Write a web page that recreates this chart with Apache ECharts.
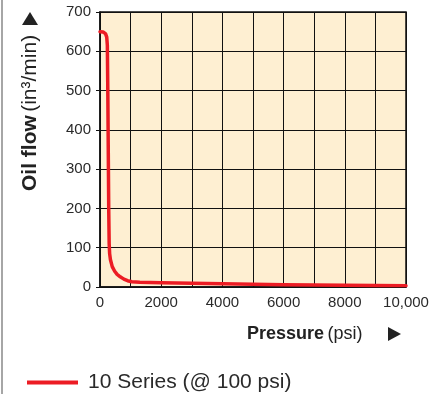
<!DOCTYPE html>
<html>
<head>
<meta charset="utf-8">
<script src="https://cdn.jsdelivr.net/npm/echarts@6/dist/echarts.min.js"></script>
<style>
  html, body { margin: 0; padding: 0; background: #fff; }
  #chart { width: 437px; height: 394px; }
</style>
</head>
<body>
<div id="chart"></div>
<script>
// pressure (psi) vs oil flow (in3/min)
const pressure = [0, 100, 180, 220, 240, 255, 270, 285, 300, 315, 340, 400, 480, 560, 660, 780, 900, 1040, 1300, 2000, 3000, 4000, 5000, 6000, 7000, 8000, 9000, 10000]
const oilFlow = [650, 649, 645, 636, 615, 500, 350, 200, 110, 85, 70, 52, 40, 32, 26, 20, 16, 13.5, 12, 11, 9.5, 8, 7, 6, 5, 4.5, 4, 3.5]
const xTickLabels = ['0', '', '2000', '', '4000', '', '6000', '', '8000', '', '10,000']
const yTickLabels = ['0', '100', '200', '300', '400', '500', '600', '700']
const seriesName = '10 Series (@ 100 psi)'

const font = '"Liberation Sans", Arial, sans-serif'
const red = '#ec1c24'
const ink = '#222'

const chart = echarts.init(document.getElementById('chart'))

chart.setOption({
  animation: false,
  textStyle: { fontFamily: font },
  grid: {
    left: 100, right: 31, top: 12, bottom: 107,
    show: true,
    backgroundColor: '#feefd2',
    borderColor: '#111',
    borderWidth: 1.5,
  },
  xAxis: {
    type: 'value',
    min: 0, max: 10000, interval: 1000,
    axisLine: { lineStyle: { color: '#111', width: 1.5 } },
    axisTick: { show: false },
    splitLine: { lineStyle: { color: '#111', width: 1 } },
    axisLabel: {
      fontSize: 15, color: '#2a2a2a', margin: 8,
      formatter: v => xTickLabels[Math.round(v / 1000)] ?? '',
    },
  },
  yAxis: {
    type: 'value',
    min: 0, max: 700, interval: 100,
    axisLine: { show: true, lineStyle: { color: '#111', width: 1.5 } },
    axisTick: { show: true, length: 4, lineStyle: { color: '#111' } },
    splitLine: { lineStyle: { color: '#111', width: 1 } },
    axisLabel: {
      fontSize: 15, color: '#2a2a2a', margin: 9,
      formatter: v => yTickLabels[Math.round(v / 100)] ?? '',
    },
  },
  legend: {
    left: 27, top: 372, padding: 0,
    icon: 'rect',
    itemWidth: 51, itemHeight: 4,
    textStyle: { fontSize: 21, color: '#2a2a2a', padding: [0, 0, 0, 5] },
    data: [seriesName],
  },
  series: [{
    name: seriesName,
    type: 'line',
    data: pressure.map((p, i) => [p, oilFlow[i]]),
    showSymbol: false,
    lineStyle: { color: red, width: 3.5, cap: 'round', join: 'round' },
    itemStyle: { color: red },
  }],
  graphic: [
    // frame edge on the left
    { type: 'line', shape: { x1: 2, y1: 0, x2: 2, y2: 394 }, style: { stroke: '#888', lineWidth: 1.5 } },
    // y axis name, rotated
    {
      type: 'text', x: 30, y: 191, rotation: Math.PI / 2,
      style: {
        text: '{b|Oil flow} {n|(in³/min)}',
        rich: {
          b: { fontSize: 21, fontWeight: 'bold', fill: ink, fontFamily: font },
          n: { fontSize: 21, fill: ink, fontFamily: font },
        },
        verticalAlign: 'middle',
      },
    },
    { type: 'polygon', shape: { points: [[22, 25], [38, 25], [30, 12]] }, style: { fill: ink } },
    // x axis name
    {
      type: 'text', left: 247, top: 325,
      style: {
        text: '{b|Pressure} {n|(psi)}',
        rich: {
          b: { fontSize: 18, fontWeight: 'bold', fill: ink, fontFamily: font },
          n: { fontSize: 18, fill: ink, fontFamily: font },
        },
      },
    },
    { type: 'polygon', shape: { points: [[388, 327], [388, 341], [401, 334]] }, style: { fill: ink } },
  ],
})
</script>
</body>
</html>
